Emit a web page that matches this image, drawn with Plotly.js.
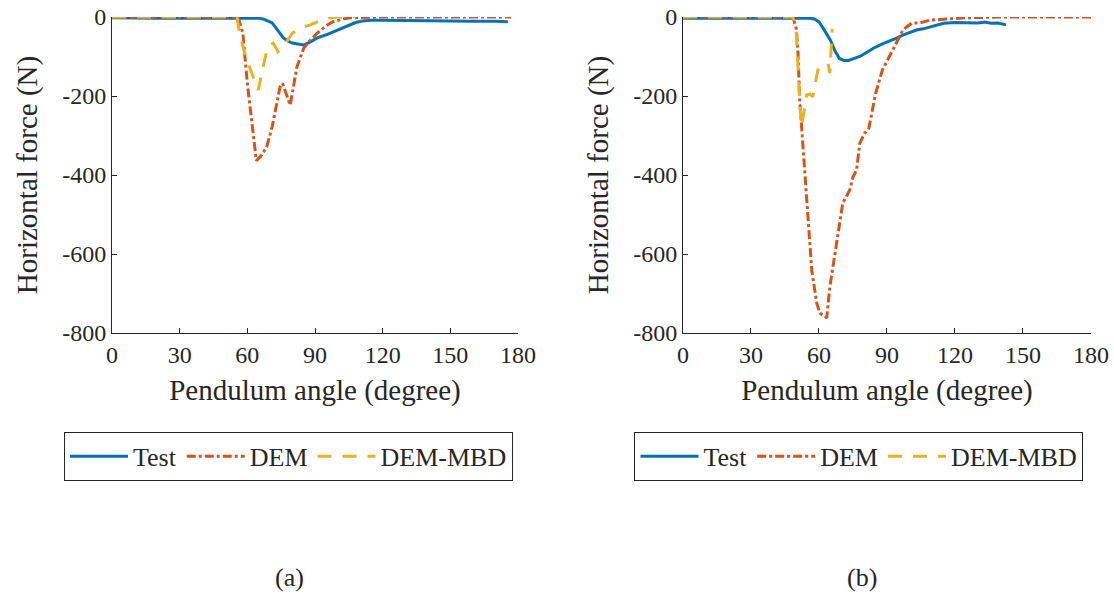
<!DOCTYPE html>
<html>
<head>
<meta charset="utf-8">
<script src="https://cdn.plot.ly/plotly-3.0.1.min.js"></script>
<style>html,body{margin:0;padding:0;background:#fff;}#chart{width:1114px;height:599px;}</style>
</head>
<body>
<div id="chart"></div>
<script>
// ---------- (a) ----------
const testA_x = [0, 10, 20, 30, 40, 50, 55, 60, 65, 67, 69, 71, 73, 76, 78, 80, 83, 85, 88, 91, 95, 98, 102, 105, 108, 111, 115, 120, 130, 140, 150, 160, 170, 175.5];
const testA_y = [-2, -3, -3, -3, -3, -2, -2, -2, -3, -5, -9, -15, -30, -53, -61, -66, -69, -71, -63, -53, -45, -38, -28, -20, -14, -10, -8, -8, -9, -10, -11, -11, -11, -12];

const demA_x = [0, 10, 20, 30, 40, 50, 55, 56, 58, 60, 62.6, 64, 66, 68.6, 71, 73, 74.5, 75.6, 77, 79, 82, 85, 88, 91, 95, 98, 104, 110, 120, 140, 160, 177];
const demA_y = [0, 0, 0, 0, 0, 0, 0, -2, -41, -168, -294, -364, -352, -329, -278, -220, -177, -168, -190, -223, -126, -79, -58, -41, -22, -12, -3, -1, 0, 0, 0, 0];

const mbdA_x = [0, 10, 20, 30, 40, 50, 55.4, 56.5, 58.5, 60.5, 62.6, 64.8, 67, 69, 71.5, 73.6, 75, 77, 80, 85, 88, 92, 95, 100, 108];
const mbdA_y = [0, 0, 0, 0, 0, 0, 0, -40, -85, -120, -152, -185, -126, -75, -66, -88, -80, -66, -41, -25, -20, -10, -3, 0, 0];

// ---------- (b) ----------
const testB_x = [0, 10, 20, 30, 40, 50, 54, 56, 58, 60, 62, 65, 67, 69, 71, 73, 75, 78, 81, 84, 88, 91, 94, 97, 100, 103, 106, 109, 112, 115, 120, 125, 130, 133, 136, 139, 142.5];
const testB_y = [-3, -3, -3, -3, -3, -3, -3, -3, -5, -12, -30, -58, -85, -105, -110, -110, -106, -100, -90, -79, -68, -62, -54, -46, -40, -33, -30, -25, -20, -16, -14, -14, -15, -13, -16, -15, -20];

const demB_x = [0, 10, 20, 30, 40, 45, 48.5, 50, 50.7, 51.5, 53, 53.7, 55, 56.8, 59, 60.4, 62, 63.4, 64.8, 67.8, 70.5, 73.6, 75, 76.6, 78, 80, 82, 85, 88, 92.5, 97, 101, 104.5, 109, 116, 125, 140, 160, 180];
const demB_y = [0, 0, 0, 0, 0, 0, 0, -30, -84, -210, -337, -387, -514, -640, -724, -750, -755, -762, -683, -573, -471, -438, -405, -387, -320, -295, -282, -193, -134, -84, -33, -15, -15, -8, -6, -2, 0, 0, 0];

const mbdB_x = [0, 10, 20, 30, 40, 45, 48.5, 50, 50.7, 51.5, 52.3, 53.5, 54.6, 56, 57.3, 58.5, 59.5, 61.7, 64, 64.8, 65.6, 65.8];
const mbdB_y = [0, 0, 0, 0, 0, 0, 0, -42, -126, -210, -278, -230, -197, -195, -202, -165, -134, -126, -117, -142, -66, -30];

const seriesNames = ["Test", "DEM", "DEM-MBD"];
const xTicks = [0, 30, 60, 90, 120, 150, 180];
const yTicks = [0, -200, -400, -600, -800];
const yTickText = ["0", "-200", "-400", "-600", "-800"];
const xTitle = "Pendulum angle (degree)";
const yTitle = "Horizontal force (N)";
const panelLabels = ["(a)", "(b)"];

const C_BLUE = "#0072BD", C_RED = "#D95319", C_YEL = "#EDB120";
const FONT = "'Liberation Serif', serif";
const TXT = "#262626";

function mk(x, y, name, color, dash, xa, ya, leg) {
  return {x: x, y: y, name: name, type: "scatter", mode: "lines",
    line: {color: color, width: 3, dash: dash},
    xaxis: xa, yaxis: ya, legend: leg, hoverinfo: "skip"};
}
const DASHDOT = "9px,3px,3px,3px";
const DASH = "14px,11px";
const traces = [
  mk(testA_x, testA_y, seriesNames[0], C_BLUE, "solid", "x", "y", "legend"),
  mk(demA_x, demA_y, seriesNames[1], C_RED, DASHDOT, "x", "y", "legend"),
  mk(mbdA_x, mbdA_y, seriesNames[2], C_YEL, DASH, "x", "y", "legend"),
  mk(testB_x, testB_y, seriesNames[0], C_BLUE, "solid", "x2", "y2", "legend2"),
  mk(demB_x, demB_y, seriesNames[1], C_RED, DASHDOT, "x2", "y2", "legend2"),
  mk(mbdB_x, mbdB_y, seriesNames[2], C_YEL, DASH, "x2", "y2", "legend2")
];

function xax(domain, anchor) {
  return {domain: domain, anchor: anchor, range: [0, 180], tickvals: xTicks, ticktext: xTicks.map(String),
    showline: true, linecolor: TXT, linewidth: 1, ticks: "inside", ticklen: 5, tickcolor: TXT,
    showgrid: false, zeroline: false, automargin: false,
    tickfont: {family: FONT, size: 24, color: TXT},
    title: {text: xTitle, font: {family: FONT, size: 29, color: TXT}, standoff: 12}};
}
function yax(anchor) {
  return {domain: [0, 1], anchor: anchor, range: [-800, 0], tickvals: yTicks, ticktext: yTickText,
    showline: true, linecolor: TXT, linewidth: 1, ticks: "inside", ticklen: 5, tickcolor: TXT,
    showgrid: false, zeroline: false, automargin: false,
    tickfont: {family: FONT, size: 24, color: TXT},
    title: {text: yTitle, font: {family: FONT, size: 29, color: TXT}, standoff: 16}};
}
function leg(xc) {
  return {orientation: "h", x: xc, xanchor: "center", y: -0.313, yanchor: "top",
    bordercolor: TXT, borderwidth: 1, bgcolor: "#fff",
    font: {family: FONT, size: 26, color: TXT}, itemwidth: 58, tracegroupgap: 0};
}

const layout = {
  width: 1114, height: 599,
  margin: {l: 112, r: 23, t: 17, b: 266, autoexpand: false},
  paper_bgcolor: "#fff", plot_bgcolor: "#fff",
  showlegend: true,
  xaxis: xax([0, 0.4147], "y"),
  yaxis: yax("x"),
  xaxis2: xax([0.5832, 1.0], "y2"),
  yaxis2: yax("x2"),
  legend: leg(0.1803),
  legend2: leg(0.763),
  annotations: [
    {text: panelLabels[0], xref: "paper", yref: "paper", x: 0.1818, y: -0.775, xanchor: "center", yanchor: "middle",
     showarrow: false, font: {family: FONT, size: 26, color: TXT}},
    {text: panelLabels[1], xref: "paper", yref: "paper", x: 0.766, y: -0.775, xanchor: "center", yanchor: "middle",
     showarrow: false, font: {family: FONT, size: 26, color: TXT}}
  ]
};

Plotly.newPlot("chart", traces, layout, {staticPlot: true, displayModeBar: false});
</script>
</body>
</html>
